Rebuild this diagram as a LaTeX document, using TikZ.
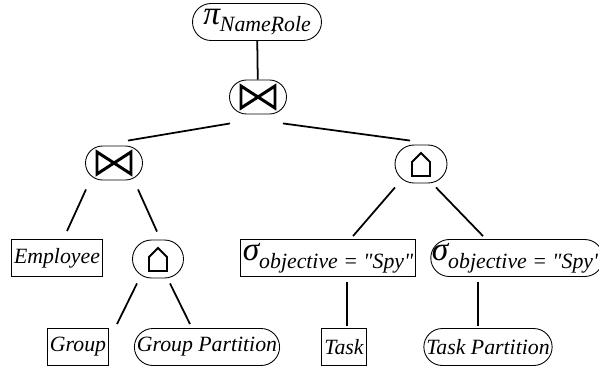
\documentclass[tikz,border=0pt]{standalone}
\usepackage{fontspec}
\setmainfont{Liberation Serif}[Ligatures=TeXOff]

\newcommand{\bigsym}[1]{{\fontsize{19}{19}\selectfont #1}}
\newcommand{\sub}[1]{\raisebox{-0.35em}{#1}}

\tikzset{
    rel/.style={draw,line width=0.5pt,rectangle,minimum height=0.74cm,inner xsep=0.05cm,inner ysep=0pt,
        font=\itshape\fontsize{12.4}{14}\selectfont},
    op/.style={rel,rounded corners=0.37cm},
    edge/.style={line width=1pt},
    bowtie/.pic={\draw[line width=1.7pt,line join=miter] (-17,-11) -- (17,11) -- (17,-11) -- (-17,11) -- cycle;},
    house/.pic={\draw[line width=1.1pt] (-9,12) -- (-9,-2) -- (0,-11) -- (9,-2) -- (9,12) -- cycle;}
}

\begin{document}
\begin{tikzpicture}[x=0.02cm,y=-0.02cm]
    \useasboundingbox (0,0) rectangle (599,369);
    %
    \node[op,minimum width=2.58cm] (proj) at (257,22)
        {\bigsym{π}\sub{Name\rlap{,}Role}};
    \node[op,minimum width=1.14cm,minimum height=0.68cm,rounded corners=0.34cm] (join) at (258,97) {};
    \node[op,minimum width=1.14cm,minimum height=0.68cm,rounded corners=0.34cm] (ljoin) at (114,163) {};
    \node[op,minimum width=1.04cm,minimum height=0.76cm,rounded corners=0.38cm] (rset) at (421,164) {};
    %
    \node[rel] (emp) at (57,258) {Employee};
    \node[op,minimum width=1.02cm,minimum height=0.76cm,rounded corners=0.38cm] (lset) at (158,259) {};
    \node[rel] (sigbox) at (328,258) {\bigsym{σ}\sub{objective = "Spy"}};
    \node[op,inner xsep=0.02cm] (sigrnd) at (517,258) {\bigsym{σ}\sub{objective = "Spy"}};
    %
    \node[rel] (grp) at (78,347) {Group};
    \node[op] (gpart) at (207,347) {Group Partition};
    \node[rel] (task) at (344,347) {Task};
    \node[op] (tpart) at (488,347) {Task Partition};
    %
    \pic at (join) {bowtie};
    \pic at (ljoin) {bowtie};
    \pic at (rset) {house};
    \pic at (lset) {house};
    %
    \draw[edge] (proj) -- (join);
    \draw[edge] ([shift={(-28,9)}]join.south) -- ([shift={(14,-5)}]ljoin.north);
    \draw[edge] ([shift={(25,9)}]join.south) -- ([shift={(-11,-4)}]rset.north);
    %
    \draw[edge] ([shift={(-28,9)}]ljoin.south) -- ([shift={(10,-8)}]emp.north);
    \draw[edge] ([shift={(24,9)}]ljoin.south) -- ([shift={(-1,-8)}]lset.north);
    \draw[edge] ([shift={(-21,5)}]lset.south) -- ([shift={(39,-4)}]grp.north);
    \draw[edge] ([shift={(12,5)}]lset.south) -- ([shift={(-17,-4)}]gpart.north);
    %
    \draw[edge] ([shift={(-26,4)}]rset.south) -- ([shift={(25,-3)}]sigbox.north);
    \draw[edge] ([shift={(15,4)}]rset.south) -- ([shift={(-34,-3)}]sigrnd.north);
    \draw[edge] ([shift={(19,5)}]sigbox.south) -- ([shift={(3,-2)}]task.north);
    \draw[edge] ([shift={(-39,5)}]sigrnd.south) -- ([shift={(-10,-2)}]tpart.north);
    %
\end{tikzpicture}
\end{document}
